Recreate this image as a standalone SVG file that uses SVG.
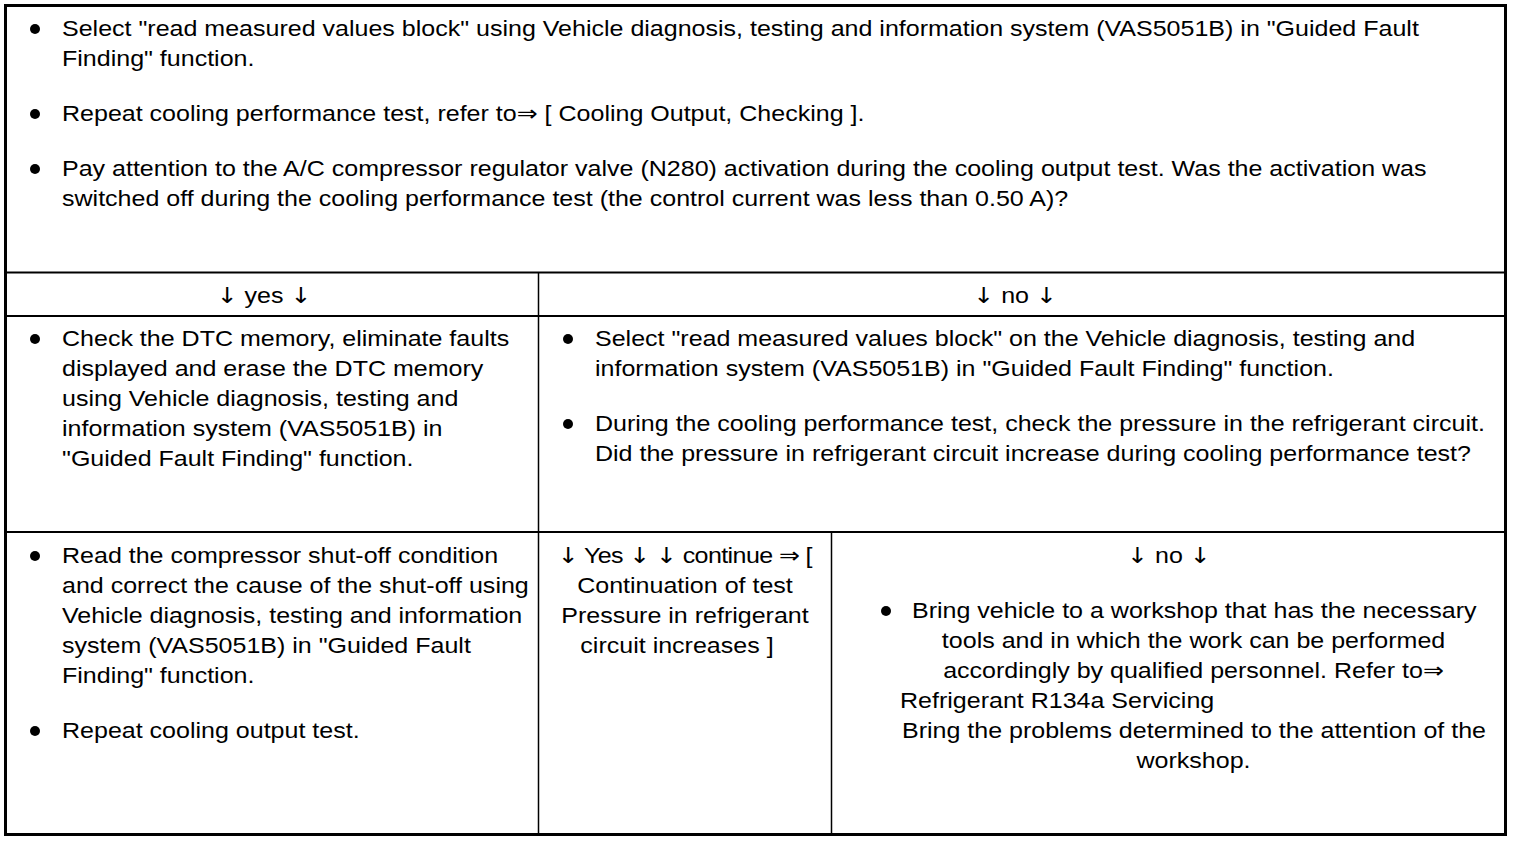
<svg xmlns="http://www.w3.org/2000/svg" width="1520" height="842" viewBox="0 0 1520 842">
<style>
text{font-family:"Liberation Sans","DejaVu Sans",Arial,sans-serif;font-size:22px;fill:#000}
.a{font-family:"DejaVu Sans",sans-serif;fill:#000}
.m{text-anchor:middle}
.thin{stroke:#000;stroke-width:1.5;fill:none}
.mid{stroke:#000;stroke-width:2;fill:none}
.thick{stroke:#000;stroke-width:3;fill:none}
</style>
<rect width="1520" height="842" fill="#fff"/>
<g id="grid">
<rect class="thick" x="5.5" y="5.5" width="1500" height="829"/>
<line class="mid" x1="7" y1="272.5" x2="1504" y2="272.5"/>
<line class="mid" x1="7" y1="316" x2="1504" y2="316"/>
<line class="mid" x1="7" y1="532" x2="1504" y2="532"/>
<line class="thin" x1="538.5" y1="272" x2="538.5" y2="834"/>
<line class="thin" x1="831.5" y1="532" x2="831.5" y2="834"/>
</g>
<g id="bullets">
<circle cx="35" cy="29" r="5"/>
<circle cx="35" cy="114" r="5"/>
<circle cx="35" cy="169" r="5"/>
<circle cx="35" cy="339" r="5"/>
<circle cx="568" cy="339" r="5"/>
<circle cx="568" cy="424" r="5"/>
<circle cx="35" cy="556" r="5"/>
<circle cx="35" cy="731" r="5"/>
<circle cx="886" cy="611" r="5"/>
</g>
<g transform="scale(1.138,1)">
<g id="top">
<text x="54.48" y="36">Select "read measured values block" using Vehicle diagnosis, testing and information system (VAS5051B) in "Guided Fault</text>
<text x="54.48" y="66">Finding" function.</text>
<text x="54.48" y="121">Repeat cooling performance test, refer to<tspan class="a">⇒</tspan> [ Cooling Output, Checking ].</text>
<text x="54.48" y="176">Pay attention to the A/C compressor regulator valve (N280) activation during the cooling output test. Was the activation was</text>
<text x="54.48" y="206">switched off during the cooling performance test (the control current was less than 0.50 A)?</text>
</g>
<g id="yes">
<text class="m" x="232" y="303"><tspan class="a">↓︎</tspan> yes <tspan class="a">↓︎</tspan></text>
</g>
<g id="no">
<text class="m" x="892" y="303"><tspan class="a">↓︎</tspan> no <tspan class="a">↓︎</tspan></text>
</g>
<g id="yes-action">
<text x="54.48" y="346">Check the DTC memory, eliminate faults</text>
<text x="54.48" y="376">displayed and erase the DTC memory</text>
<text x="54.48" y="406">using Vehicle diagnosis, testing and</text>
<text x="54.48" y="436">information system (VAS5051B) in</text>
<text x="54.48" y="466">"Guided Fault Finding" function.</text>
</g>
<g id="no-action">
<text x="522.85" y="346">Select "read measured values block" on the Vehicle diagnosis, testing and</text>
<text x="522.85" y="376">information system (VAS5051B) in "Guided Fault Finding" function.</text>
<text x="522.85" y="431">During the cooling performance test, check the pressure in the refrigerant circuit.</text>
<text x="522.85" y="461">Did the pressure in refrigerant circuit increase during cooling performance test?</text>
</g>
<g id="shutoff">
<text x="54.48" y="563">Read the compressor shut-off condition</text>
<text x="54.48" y="593">and correct the cause of the shut-off using</text>
<text x="54.48" y="623">Vehicle diagnosis, testing and information</text>
<text x="54.48" y="653">system (VAS5051B) in "Guided Fault</text>
<text x="54.48" y="683">Finding" function.</text>
<text x="54.48" y="738">Repeat cooling output test.</text>
</g>
<g id="continue">
<text x="489.5" y="563" textLength="224" lengthAdjust="spacing"><tspan class="a">↓︎</tspan> Yes <tspan class="a">↓︎</tspan> <tspan class="a">↓︎</tspan> continue <tspan class="a">⇒</tspan> [</text>
<text class="m" x="601.93" y="593">Continuation of test</text>
<text class="m" x="601.93" y="623">Pressure in refrigerant</text>
<text class="m" x="594.9" y="653">circuit increases ]</text>
</g>
<g id="workshop">
<text class="m" x="1027.2" y="563"><tspan class="a">↓︎</tspan> no <tspan class="a">↓︎</tspan></text>
<text x="801.41" y="618">Bring vehicle to a workshop that has the necessary</text>
<text class="m" x="1048.8" y="648">tools and in which the work can be performed</text>
<text class="m" x="1048.8" y="678">accordingly by qualified personnel. Refer to<tspan class="a">⇒</tspan></text>
<text x="790.86" y="708">Refrigerant R134a Servicing</text>
<text class="m" x="1049.2" y="738">Bring the problems determined to the attention of the</text>
<text class="m" x="1048.8" y="768">workshop.</text>
</g>
</g>
</svg>
